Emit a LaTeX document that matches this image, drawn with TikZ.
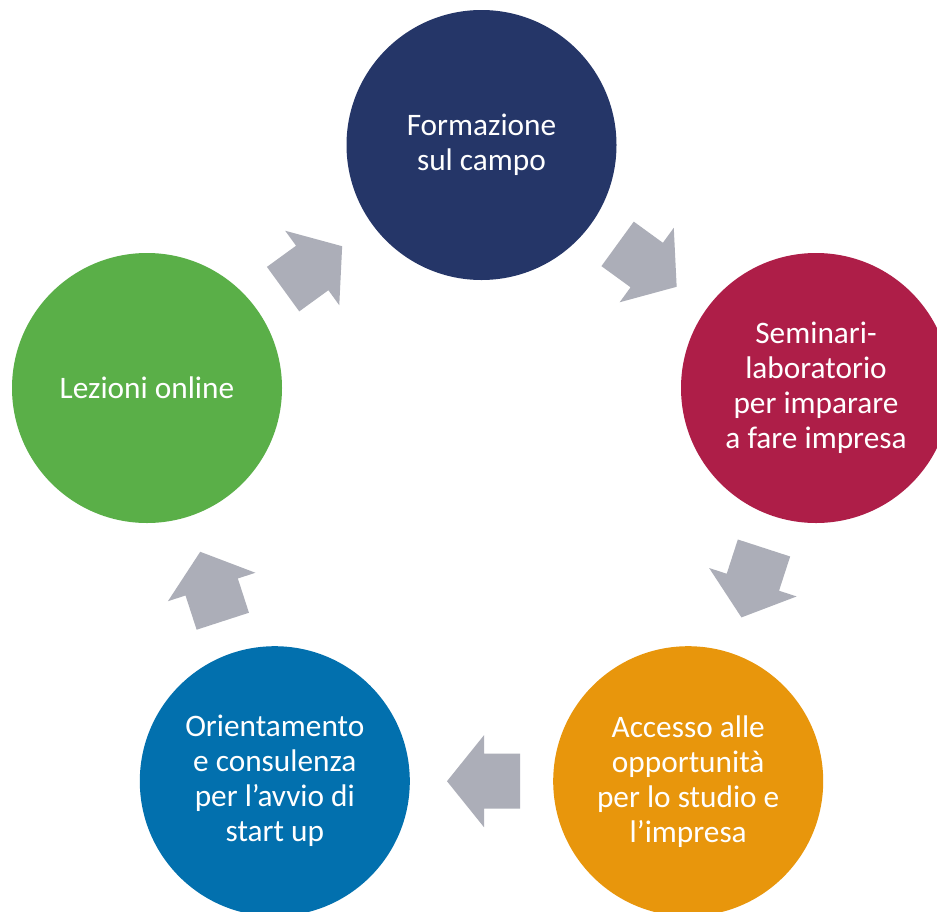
\documentclass[tikz,border=0pt]{standalone}
\usepackage{fontspec}
\setmainfont{Carlito}
\usetikzlibrary{calc}
\definecolor{cnavy}{RGB}{37,54,104}
\definecolor{ccrimson}{RGB}{174,30,72}
\definecolor{corange}{RGB}{232,150,12}
\definecolor{cblue}{RGB}{2,112,174}
\definecolor{cgreen}{RGB}{90,175,72}
\definecolor{cgray}{RGB}{172,174,184}
\tikzset{
  bubble/.style={circle, minimum size=270pt, inner sep=0pt, text=white, align=center,
    font=\fontsize{31.3}{35}\selectfont},
  blockarrow/.pic={\fill[cgray] (34.5,0) -- (-2.5,46) -- (-2.5,27.5) -- (-38.5,27.5)
     -- (-38.5,-27.5) -- (-2.5,-27.5) -- (-2.5,-46) -- cycle;}
}
\begin{document}
\begin{tikzpicture}[x=1pt,y=-1pt]
\useasboundingbox (0,0) rectangle (937,911);
\clip (0,0) rectangle (937,911);
\fill[white] (0,0) rectangle (937,911);
\node[bubble, fill=cnavy] (form) at (481.5,145) {Formazione\\sul campo};
\node[bubble, fill=ccrimson] (sem) at (816,388) {Seminari-\\laboratorio\\per imparare\\a fare impresa};
\node[bubble, fill=corange] (acc) at (688.2,781.2) {Accesso alle\\opportunità\\per lo studio e\\l’impresa};
\node[bubble, fill=cblue] (ori) at (274.8,781.2) {Orientamento\\e consulenza\\per l’avvio di\\start up};
\node[bubble, fill=cgreen] (lez) at (147,388) {Lezioni online};
\pic[rotate=36] at ($(lez)!0.5!(form)$) {blockarrow};
\pic[rotate=-36] at ($(form)!0.5!(sem)$) {blockarrow};
\pic[rotate=-108] at ($(sem)!0.5!(acc)$) {blockarrow};
\pic[rotate=180] at ($(acc)!0.5!(ori)$) {blockarrow};
\pic[rotate=108] at ($(ori)!0.5!(lez)$) {blockarrow};
\end{tikzpicture}
\end{document}
